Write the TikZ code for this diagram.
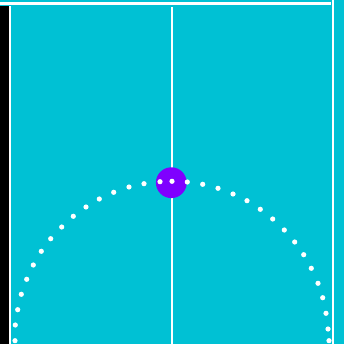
\documentclass[tikz,border=0pt]{standalone}
\usepackage{xcolor}
\usepackage{tikz}
\definecolor{fieldcyan}{HTML}{00C1D4}
\definecolor{ballpurple}{HTML}{7F00FF}

\begin{document}
\begin{tikzpicture}[x=1pt, y=-1pt,
    courtline/.style={fill=white},
    trail/.style={fill=white}]
  \useasboundingbox (0,0) rectangle (344,344);
  \fill[fieldcyan] (0,0) rectangle (344,344);
  \fill[courtline] (0,2.3) rectangle (331,4.7);
  \fill[courtline] (332,0) rectangle (334,344);
  \fill[black] (0,6) rectangle (8.5,344);
  \fill[courtline] (9,6) rectangle (11,344);
  \fill[courtline] (170.7,7) rectangle (172.7,344);
  \fill[ballpurple] (171.3,182.7) circle (15.4);
  \foreach \x/\y in {15/340.7, 15.3/325, 17.7/309.7, 21.3/294.3, 26.7/279.3,
      33.3/265, 41.3/251.3, 50.7/238.7, 61.7/227, 73.3/216.3, 86/207,
      99.3/199, 113.7/192.3, 129/187, 144/183.7, 160/181.7, 172/181.3,
      187.3/182, 202.7/184.3, 218/188.3, 233/194, 247/200.7, 260.3/209.3,
      272.7/219, 284.3/230, 294.7/242, 303.7/254.7, 311.3/268.3, 318/283.3,
      322.7/297.7, 326/313.3, 328/329, 329/340.7}
    \fill[trail] (\x,\y) circle (2.6);
\end{tikzpicture}
\end{document}
